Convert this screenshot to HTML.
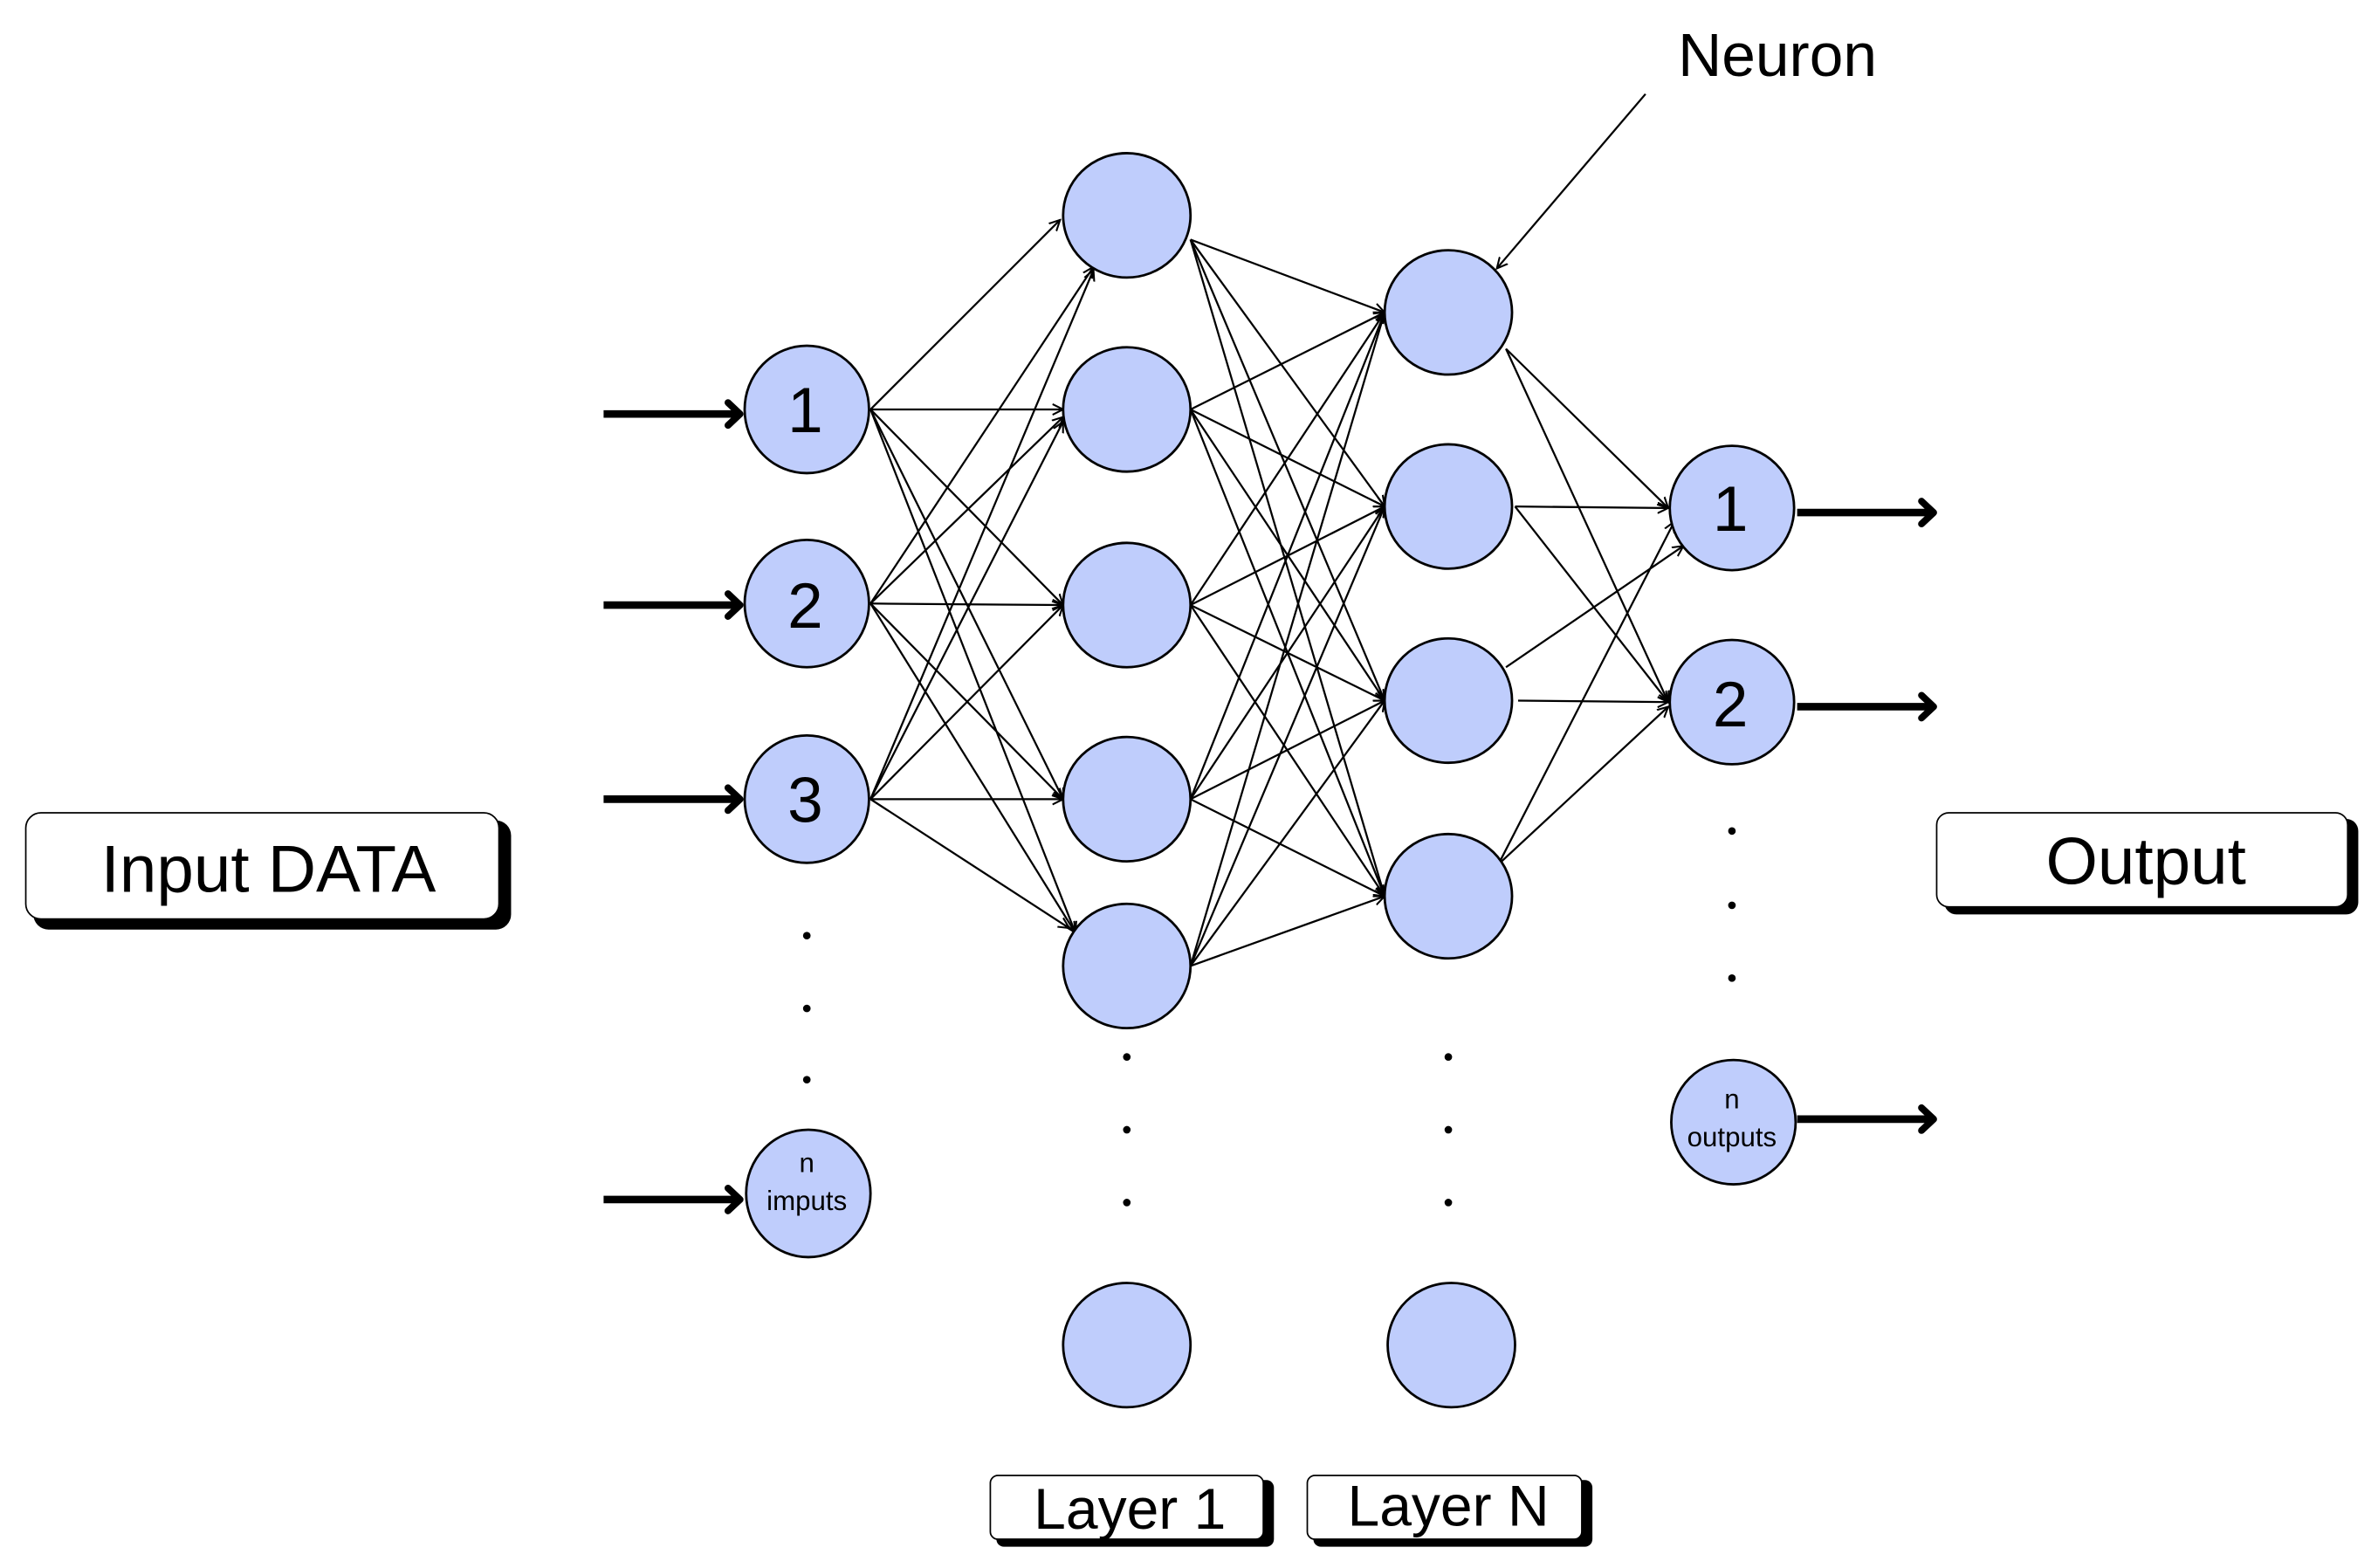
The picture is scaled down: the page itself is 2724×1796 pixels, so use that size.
<!DOCTYPE html>
<html><head><meta charset="utf-8"><style>
html,body{margin:0;padding:0;background:#fff;}
svg{display:block;}
text{font-family:"Liberation Sans","DejaVu Sans",sans-serif;fill:#000;}
</style></head><body>
<svg width="2724" height="1796" viewBox="0 0 1568 1034" preserveAspectRatio="none" xmlns="http://www.w3.org/2000/svg">
<defs>
<marker id="a" markerWidth="8" markerHeight="8" refX="7" refY="4" orient="auto" markerUnits="userSpaceOnUse"><path d="M0,0.5 L7,4 L0,7.5" fill="none" stroke="#000" stroke-width="1.2"/></marker>
<marker id="b" markerWidth="14" markerHeight="20" refX="11" refY="10" orient="auto" markerUnits="userSpaceOnUse"><path d="M3,2.5 L11,10 L3,17.5" fill="none" stroke="#000" stroke-width="4.5" stroke-linecap="round" stroke-linejoin="round"/></marker>
</defs>
<g stroke="#000" stroke-width="1.3" marker-end="url(#a)">
<line x1="574" y1="270" x2="699" y2="145"/><line x1="574" y1="270" x2="701" y2="270"/><line x1="574" y1="270" x2="701" y2="399"/><line x1="574" y1="270" x2="701" y2="527"/><line x1="574" y1="270" x2="709" y2="615"/>
<line x1="574" y1="398" x2="721" y2="176"/><line x1="574" y1="398" x2="701" y2="275"/><line x1="574" y1="398" x2="701" y2="399"/><line x1="574" y1="398" x2="701" y2="527"/><line x1="574" y1="398" x2="709" y2="615"/>
<line x1="574" y1="527" x2="721" y2="178"/><line x1="574" y1="527" x2="701" y2="278"/><line x1="574" y1="527" x2="701" y2="399"/><line x1="574" y1="527" x2="701" y2="527"/><line x1="574" y1="527" x2="705" y2="612"/>
<line x1="785" y1="158" x2="913" y2="206"/><line x1="785" y1="158" x2="913" y2="334"/><line x1="785" y1="158" x2="913" y2="462"/><line x1="785" y1="158" x2="913" y2="591"/>
<line x1="785" y1="270" x2="913" y2="206"/><line x1="785" y1="270" x2="913" y2="334"/><line x1="785" y1="270" x2="913" y2="462"/><line x1="785" y1="270" x2="913" y2="591"/>
<line x1="785" y1="399" x2="913" y2="206"/><line x1="785" y1="399" x2="913" y2="334"/><line x1="785" y1="399" x2="913" y2="462"/><line x1="785" y1="399" x2="913" y2="591"/>
<line x1="785" y1="527" x2="913" y2="206"/><line x1="785" y1="527" x2="913" y2="334"/><line x1="785" y1="527" x2="913" y2="462"/><line x1="785" y1="527" x2="913" y2="591"/>
<line x1="785" y1="637" x2="913" y2="206"/><line x1="785" y1="637" x2="913" y2="334"/><line x1="785" y1="637" x2="913" y2="462"/><line x1="785" y1="637" x2="913" y2="591"/>
<line x1="993" y1="230" x2="1100" y2="335"/><line x1="993" y1="230" x2="1100" y2="463"/>
<line x1="999" y1="334" x2="1100" y2="335"/><line x1="999" y1="334" x2="1100" y2="463"/>
<line x1="993" y1="440" x2="1110" y2="360"/><line x1="1001" y1="462" x2="1100" y2="463"/>
<line x1="988" y1="570" x2="1104" y2="344"/><line x1="988" y1="570" x2="1100" y2="466"/>
<line x1="1085" y1="62" x2="987" y2="177"/>
</g>
<g stroke="#000" stroke-width="5" marker-end="url(#b)">
<line x1="398" y1="273" x2="488" y2="273"/><line x1="398" y1="399" x2="488" y2="399"/><line x1="398" y1="527" x2="488" y2="527"/><line x1="398" y1="791" x2="488" y2="791"/>
<line x1="1185" y1="338" x2="1275" y2="338"/><line x1="1185" y1="466" x2="1275" y2="466"/><line x1="1185" y1="738" x2="1275" y2="738"/>
</g>
<g fill="#bfcdfc" stroke="#000" stroke-width="1.6">
<ellipse cx="532" cy="270" rx="41" ry="42"/><ellipse cx="532" cy="398" rx="41" ry="42"/><ellipse cx="532" cy="527" rx="41" ry="42"/><ellipse cx="533" cy="787" rx="41" ry="42"/>
<ellipse cx="743" cy="142" rx="42" ry="41"/><ellipse cx="743" cy="270" rx="42" ry="41"/><ellipse cx="743" cy="399" rx="42" ry="41"/><ellipse cx="743" cy="527" rx="42" ry="41"/><ellipse cx="743" cy="637" rx="42" ry="41"/><ellipse cx="743" cy="887" rx="42" ry="41"/>
<ellipse cx="955" cy="206" rx="42" ry="41"/><ellipse cx="955" cy="334" rx="42" ry="41"/><ellipse cx="955" cy="462" rx="42" ry="41"/><ellipse cx="955" cy="591" rx="42" ry="41"/><ellipse cx="957" cy="887" rx="42" ry="41"/>
<ellipse cx="1142" cy="335" rx="41" ry="41"/><ellipse cx="1142" cy="463" rx="41" ry="41"/><ellipse cx="1143" cy="740" rx="41" ry="41"/>
</g>
<g fill="#000">
<circle cx="532" cy="617" r="2.5"/><circle cx="532" cy="665" r="2.5"/><circle cx="532" cy="712" r="2.5"/>
<circle cx="743" cy="697" r="2.5"/><circle cx="743" cy="745" r="2.5"/><circle cx="743" cy="793" r="2.5"/>
<circle cx="955" cy="697" r="2.5"/><circle cx="955" cy="745" r="2.5"/><circle cx="955" cy="793" r="2.5"/>
<circle cx="1142" cy="548" r="2.5"/><circle cx="1142" cy="597" r="2.5"/><circle cx="1142" cy="645" r="2.5"/>
</g>
<g text-anchor="middle" font-size="42">
<text x="531" y="285">1</text><text x="531" y="414">2</text><text x="531" y="542">3</text>
<text x="1141" y="350">1</text><text x="1141" y="479">2</text>
</g>
<g text-anchor="middle" font-size="18">
<text x="532" y="773">n</text><text x="532" y="798">imputs</text>
<text x="1142" y="731">n</text><text x="1142" y="756">outputs</text>
</g>
<text x="1172" y="50" text-anchor="middle" font-size="40">Neuron</text>
<g>
<rect x="22" y="541" width="315" height="72" rx="10" fill="#000"/>
<rect x="17" y="536" width="312" height="70" rx="10" fill="#fff" stroke="#000" stroke-width="1"/>
<text x="177" y="588" text-anchor="middle" font-size="44">Input DATA</text>
<rect x="1282" y="540" width="273" height="63" rx="8" fill="#000"/>
<rect x="1277" y="536" width="271" height="62" rx="8" fill="#fff" stroke="#000" stroke-width="1"/>
<text x="1415" y="583" text-anchor="middle" font-size="44">Output</text>
<rect x="657" y="976" width="183" height="44" rx="5" fill="#000"/>
<rect x="653" y="973" width="180" height="42" rx="5" fill="#fff" stroke="#000" stroke-width="1"/>
<text x="745" y="1008" text-anchor="middle" font-size="38">Layer 1</text>
<rect x="866" y="976" width="184" height="44" rx="5" fill="#000"/>
<rect x="862" y="973" width="181" height="42" rx="5" fill="#fff" stroke="#000" stroke-width="1"/>
<text x="955" y="1006" text-anchor="middle" font-size="38">Layer N</text>
</g>
</svg>
</body></html>
